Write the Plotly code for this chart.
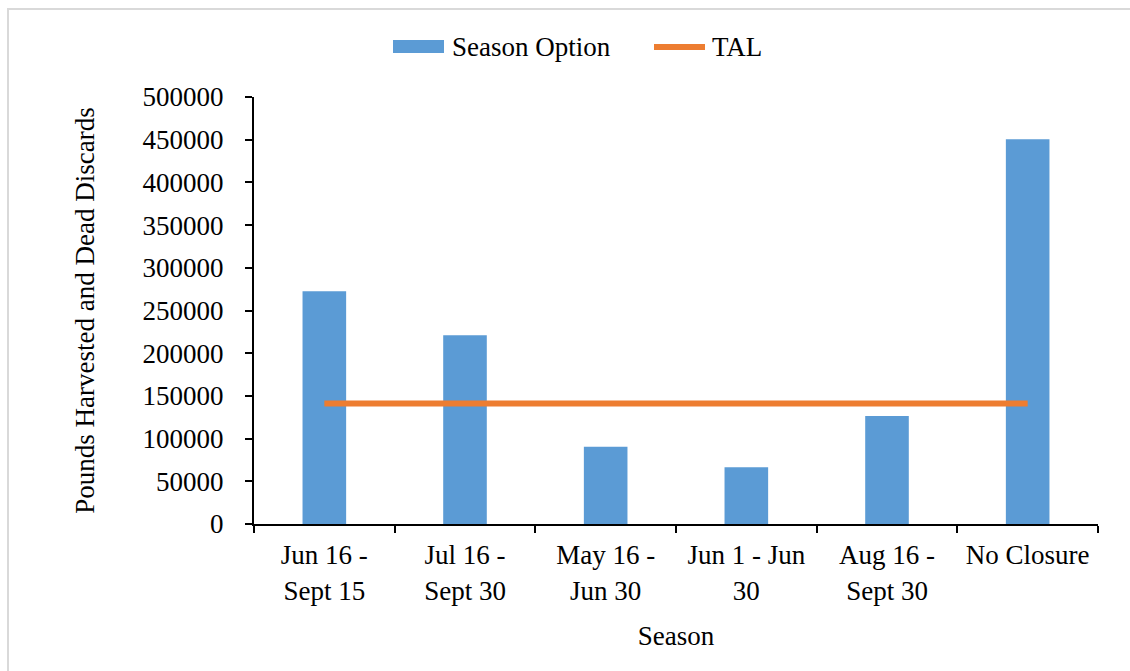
import plotly.graph_objects as go

# Season options and modelled pounds (harvest + dead discards)
seasons = ["Jun 16 -<br>Sept 15", "Jul 16 -<br>Sept 30", "May 16 -<br>Jun 30",
           "Jun 1 - Jun<br>30", "Aug 16 -<br>Sept 30", "No Closure"]
season_pounds = [272500, 221000, 90500, 66400, 126500, 450500]
tal_value = 141000
tal_line = [tal_value] * len(seasons)

y_ticks = [0, 50000, 100000, 150000, 200000, 250000, 300000, 350000, 400000, 450000, 500000]

BLUE = "#5B9BD5"
ORANGE = "#ED7D31"

W, H = 1130, 671
L, R, T, B = 254, 32, 97, 147
pw, ph = W - L - R, H - T - B

def px_x(x):
    return (x - L) / pw

def px_y(y):
    return (H - B - y) / ph

FONT = "Liberation Serif"
FS = 27

fig = go.Figure()
fig.add_trace(go.Bar(
    x=seasons, y=season_pounds, name="Season Option",
    marker=dict(color=BLUE, line=dict(width=0)), showlegend=False,
))
fig.add_trace(go.Scatter(
    x=seasons, y=tal_line, name="TAL", mode="lines",
    line=dict(color=ORANGE, width=6), showlegend=False,
))

# Legend drawn as swatches + labels above the plot
legend_y = px_y(47)
shapes = [
    dict(type="rect", xref="paper", yref="paper",
         x0=px_x(8), x1=px_x(1200), y0=px_y(9), y1=px_y(700),
         line=dict(color="#d9d9d9", width=2), layer="below"),
    dict(type="rect", xref="paper", yref="paper",
         x0=px_x(393), x1=px_x(444), y0=px_y(53), y1=px_y(40),
         fillcolor=BLUE, line=dict(width=0)),
    dict(type="line", xref="paper", yref="paper",
         x0=px_x(654), x1=px_x(705), y0=legend_y, y1=legend_y,
         line=dict(color=ORANGE, width=6)),
]
annotations = [
    dict(text="Season Option", xref="paper", yref="paper", x=px_x(450), y=legend_y,
         xanchor="left", yanchor="middle", showarrow=False,
         font=dict(family=FONT, size=FS, color="black")),
    dict(text="TAL", xref="paper", yref="paper", x=px_x(710), y=legend_y,
         xanchor="left", yanchor="middle", showarrow=False,
         font=dict(family=FONT, size=FS, color="black")),
]

fig.update_layout(
    width=W, height=H,
    margin=dict(l=L, r=R, t=T, b=B, autoexpand=False),
    paper_bgcolor="white", plot_bgcolor="white",
    font=dict(family=FONT, size=FS, color="black"),
    bargap=0.69,
    showlegend=False,
    shapes=shapes,
    annotations=annotations,
)

fig.update_xaxes(
    showline=True, linecolor="black", linewidth=2,
    ticks="outside", tickson="boundaries", ticklen=7, tickwidth=2, tickcolor="black",
    showgrid=False, automargin=False,
    ticklabelstandoff=6,
    tickfont=dict(family=FONT, size=FS),
    title=dict(text="Season", font=dict(family=FONT, size=FS), standoff=22),
)
fig.update_yaxes(
    range=[0, 500000], tickvals=y_ticks, ticktext=[str(v) for v in y_ticks],
    showline=True, linecolor="black", linewidth=2,
    ticks="outside", ticklen=7, tickwidth=2, tickcolor="black",
    showgrid=False, zeroline=False, automargin=False,
    ticklabelstandoff=16,
    tickfont=dict(family=FONT, size=FS),
    title=dict(text="Pounds Harvested and Dead Discards",
               font=dict(family=FONT, size=FS), standoff=40),
)

fig.write_html("out.html")
